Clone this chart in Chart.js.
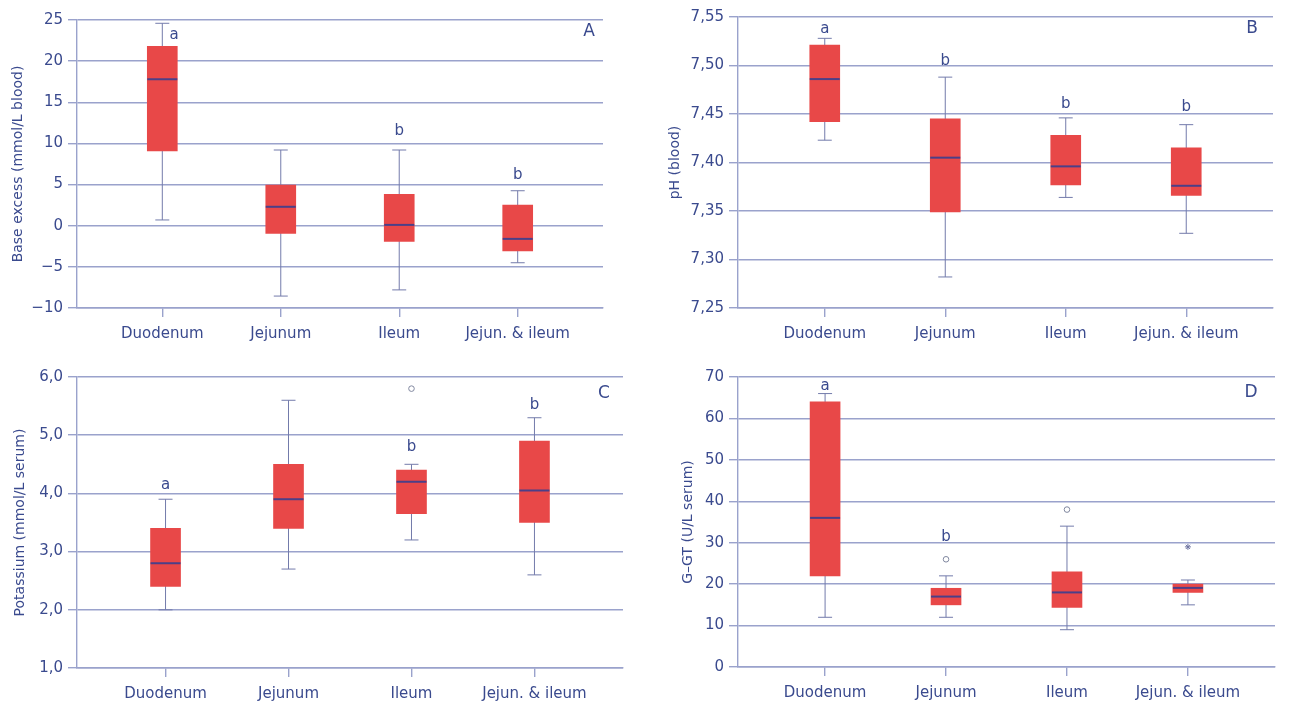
<!DOCTYPE html>
<html lang="en">
<head>
<meta charset="UTF-8">
<title>Blood and serum values by resected segment</title>
<script src="https://cdn.jsdelivr.net/npm/chart.js"></script>
<style>
  body { margin: 0; background: #fff; width: 1292px; height: 704px; overflow: hidden; position: relative; }
  .panel { position: absolute; }
</style>
</head>
<body>
<div class="panel" style="left:0;top:0;width:620px;height:350px"><canvas id="chartA"></canvas></div>
<div class="panel" style="left:650px;top:0;width:640px;height:350px"><canvas id="chartB"></canvas></div>
<div class="panel" style="left:0;top:360px;width:640px;height:344px"><canvas id="chartC"></canvas></div>
<div class="panel" style="left:650px;top:360px;width:642px;height:344px"><canvas id="chartD"></canvas></div>

<script>
const segments = ['Duodenum', 'Jejunum', 'Ileum', 'Jejun. & ileum'];

// A - base excess (mmol/L blood)
const beMin = [0.7, -8.55, -7.8, -4.5];
const beQ1 = [9.1, -0.95, -1.9, -3.05];
const beMed = [17.8, 2.3, 0.1, -1.6];
const beQ3 = [21.8, 4.95, 3.8, 2.5];
const beMax = [24.6, 9.2, 9.2, 4.25];
const beLetters = ['a', '', 'b', 'b'];
const beLetterX = [0.1, 1, 2, 3];
const beLetterY = [23.2, null, 11.5, 6.1];

// B - pH (blood)
const phMin = [7.423, 7.282, 7.364, 7.327];
const phQ1 = [7.442, 7.349, 7.377, 7.366];
const phMed = [7.486, 7.405, 7.396, 7.376];
const phQ3 = [7.521, 7.445, 7.428, 7.415];
const phMax = [7.528, 7.488, 7.446, 7.439];
const phLetters = ['a', 'b', 'b', 'b'];
const phLetterX = [0, 1, 2, 3];
const phLetterY = [7.538, 7.505, 7.46, 7.457];

// C - potassium (mmol/L serum)
const kMin = [2.0, 2.7, 3.2, 2.6];
const kQ1 = [2.4, 3.4, 3.65, 3.5];
const kMed = [2.8, 3.9, 4.2, 4.05];
const kQ3 = [3.4, 4.5, 4.4, 4.9];
const kMax = [3.9, 5.6, 4.5, 5.3];
const kLetters = ['a', '', 'b', 'b'];
const kLetterX = [0, 1, 2, 3];
const kLetterY = [4.14, null, 4.8, 5.52];
const kOutX = [2];
const kOutY = [5.8];

// D - G-GT (U/L serum)
const gMin = [12, 12, 9, 15];
const gQ1 = [22, 15, 14.4, 18];
const gMed = [36, 17, 18, 19.1];
const gQ3 = [64, 19, 23, 20];
const gMax = [66, 22, 34, 21];
const gLetters = ['a', 'b', '', ''];
const gLetterX = [0, 1, 2, 3];
const gLetterY = [67.8, 31.4, null, null];
const gOutX = [1, 2];
const gOutY = [26, 38];
const gExtX = [3];
const gExtY = [29];

const textColor = '#3a4a8e';
const gridColor = '#9aa2cc';
const boxColor = '#e84848';
const whiskerColor = '#737bab';
const medianColor = '#4b3f88';
const fontFamily = '"DejaVu Sans", sans-serif';

// letters a/b over the boxes + the panel letter in the corner
const annotate = {
  id: 'annotate',
  afterDatasetsDraw(chart, args, opts) {
    const { ctx, chartArea, scales } = chart;
    ctx.save();
    ctx.fillStyle = textColor;
    ctx.textAlign = 'center';
    ctx.textBaseline = 'middle';
    ctx.font = '15px ' + fontFamily;
    opts.letters.forEach((t, i) => {
      if (!t) return;
      ctx.fillText(t, scales.x.getPixelForValue(opts.letterX[i]), scales.y.getPixelForValue(opts.letterY[i]));
    });
    ctx.font = '17px ' + fontFamily;
    ctx.fillText(opts.panel, chartArea.right - opts.cornerDx, chartArea.top + opts.cornerDy);
    ctx.restore();
  }
};

function makeBoxChart(id, p) {
  const whiskers = [];
  p.min.forEach((v, i) => {
    whiskers.push({ x: i, y: v }, { x: i, y: p.max[i] }, { x: i, y: null });
  });
  const datasets = [
    {
      type: 'bar',
      data: p.q1.map((v, i) => ({ x: i, y: [v, p.q3[i]] })),
      backgroundColor: boxColor,
      borderWidth: 0,
      barThickness: 30,
      order: 2
    },
    {
      type: 'line',
      data: whiskers,
      borderColor: whiskerColor,
      borderWidth: 1,
      spanGaps: false,
      pointStyle: 'line',
      pointRadius: 7,
      pointBorderWidth: 1,
      pointBorderColor: whiskerColor,
      order: 3
    },
    {
      type: 'line',
      data: p.med.map((v, i) => ({ x: i, y: v })),
      showLine: false,
      pointStyle: 'line',
      pointRadius: 15,
      pointBorderWidth: 2,
      pointBorderColor: medianColor,
      order: 1
    }
  ];
  if (p.outX) {
    datasets.push({
      type: 'line',
      data: p.outX.map((v, i) => ({ x: v, y: p.outY[i] })),
      showLine: false,
      pointStyle: 'circle',
      pointRadius: 2.8,
      pointBorderWidth: 1,
      pointBorderColor: '#80879f',
      pointBackgroundColor: '#fff',
      order: 0
    });
  }
  if (p.extX) {
    datasets.push({
      type: 'line',
      data: p.extX.map((v, i) => ({ x: v, y: p.extY[i] })),
      showLine: false,
      pointStyle: 'star',
      pointRadius: 3,
      pointBorderWidth: 1,
      pointBorderColor: '#6d73a0',
      order: 0
    });
  }

  new Chart(document.getElementById(id), {
    type: 'bar',
    data: { datasets },
    options: {
      responsive: true,
      maintainAspectRatio: false,
      animation: false,
      events: [],
      layout: { padding: p.padding },
      plugins: {
        legend: { display: false },
        tooltip: { enabled: false },
        annotate: {
          letters: p.letters, letterX: p.letterX, letterY: p.letterY,
          panel: p.panel, cornerDx: p.cornerDx, cornerDy: p.cornerDy
        }
      },
      scales: {
        x: {
          type: 'linear',
          min: -0.72,
          max: 3.72,
          offset: false,
          afterBuildTicks: (s) => { s.ticks = segments.map((_, i) => ({ value: i })); },
          afterFit: (s) => { s.height = p.xHeight; },
          grid: { offset: false, drawOnChartArea: false, drawTicks: true, tickLength: 9, color: gridColor, lineWidth: 1.4 },
          border: { display: true, color: gridColor, width: 1.4 },
          ticks: {
            color: textColor,
            font: { family: fontFamily, size: 15 },
            padding: 8,
            maxRotation: 0,
            autoSkip: false,
            callback: (v) => segments[v]
          }
        },
        y: {
          min: p.yMin,
          max: p.yMax,
          afterFit: (s) => { s.width = p.yWidth; },
          grid: { drawTicks: true, tickLength: 9, color: gridColor, lineWidth: 1.4 },
          border: { display: true, color: gridColor, width: 1.4 },
          ticks: {
            stepSize: p.step,
            color: textColor,
            font: { family: fontFamily, size: 15 },
            padding: 5,
            callback: p.fmt
          },
          title: {
            display: true,
            text: p.title,
            color: textColor,
            font: { family: fontFamily, size: 14 },
            padding: { top: p.titlePad, bottom: 0 }
          }
        }
      }
    },
    plugins: [annotate]
  });
}

makeBoxChart('chartA', {
  min: beMin, q1: beQ1, med: beMed, q3: beQ3, max: beMax,
  letters: beLetters, letterX: beLetterX, letterY: beLetterY,
  yMin: -10, yMax: 25, step: 5,
  fmt: (v) => String(v).replace('-', '\u2212'),
  title: 'Base excess (mmol/L blood)', titlePad: 10,
  yWidth: 77, xHeight: 42, padding: { top: 20, right: 13, left: 0, bottom: 0 },
  panel: 'A', cornerDx: 14, cornerDy: 12
});

makeBoxChart('chartB', {
  min: phMin, q1: phQ1, med: phMed, q3: phQ3, max: phMax,
  letters: phLetters, letterX: phLetterX, letterY: phLetterY,
  yMin: 7.25, yMax: 7.55, step: 0.05,
  fmt: (v) => v.toFixed(2).replace('.', ','),
  title: 'pH (blood)', titlePad: 16.5,
  yWidth: 88, xHeight: 42, padding: { top: 16, right: 14, left: 0, bottom: 0 },
  panel: 'B', cornerDx: 21, cornerDy: 12
});

makeBoxChart('chartC', {
  min: kMin, q1: kQ1, med: kMed, q3: kQ3, max: kMax,
  letters: kLetters, letterX: kLetterX, letterY: kLetterY,
  outX: kOutX, outY: kOutY,
  yMin: 1, yMax: 6, step: 1,
  fmt: (v) => v.toFixed(1).replace('.', ','),
  title: 'Potassium (mmol/L serum)', titlePad: 11.5,
  yWidth: 77, xHeight: 36, padding: { top: 16, right: 14, left: 0, bottom: 0 },
  panel: 'C', cornerDx: 19, cornerDy: 17
});

makeBoxChart('chartD', {
  min: gMin, q1: gQ1, med: gMed, q3: gQ3, max: gMax,
  letters: gLetters, letterX: gLetterX, letterY: gLetterY,
  outX: gOutX, outY: gOutY, extX: gExtX, extY: gExtY,
  yMin: 0, yMax: 70, step: 10,
  fmt: (v) => String(v),
  title: 'G\u2013GT (U/L serum)', titlePad: 30,
  yWidth: 88, xHeight: 37, padding: { top: 16, right: 0, left: 0, bottom: 0 },
  panel: 'D', cornerDx: 24, cornerDy: 16
});
</script>
</body>
</html>
